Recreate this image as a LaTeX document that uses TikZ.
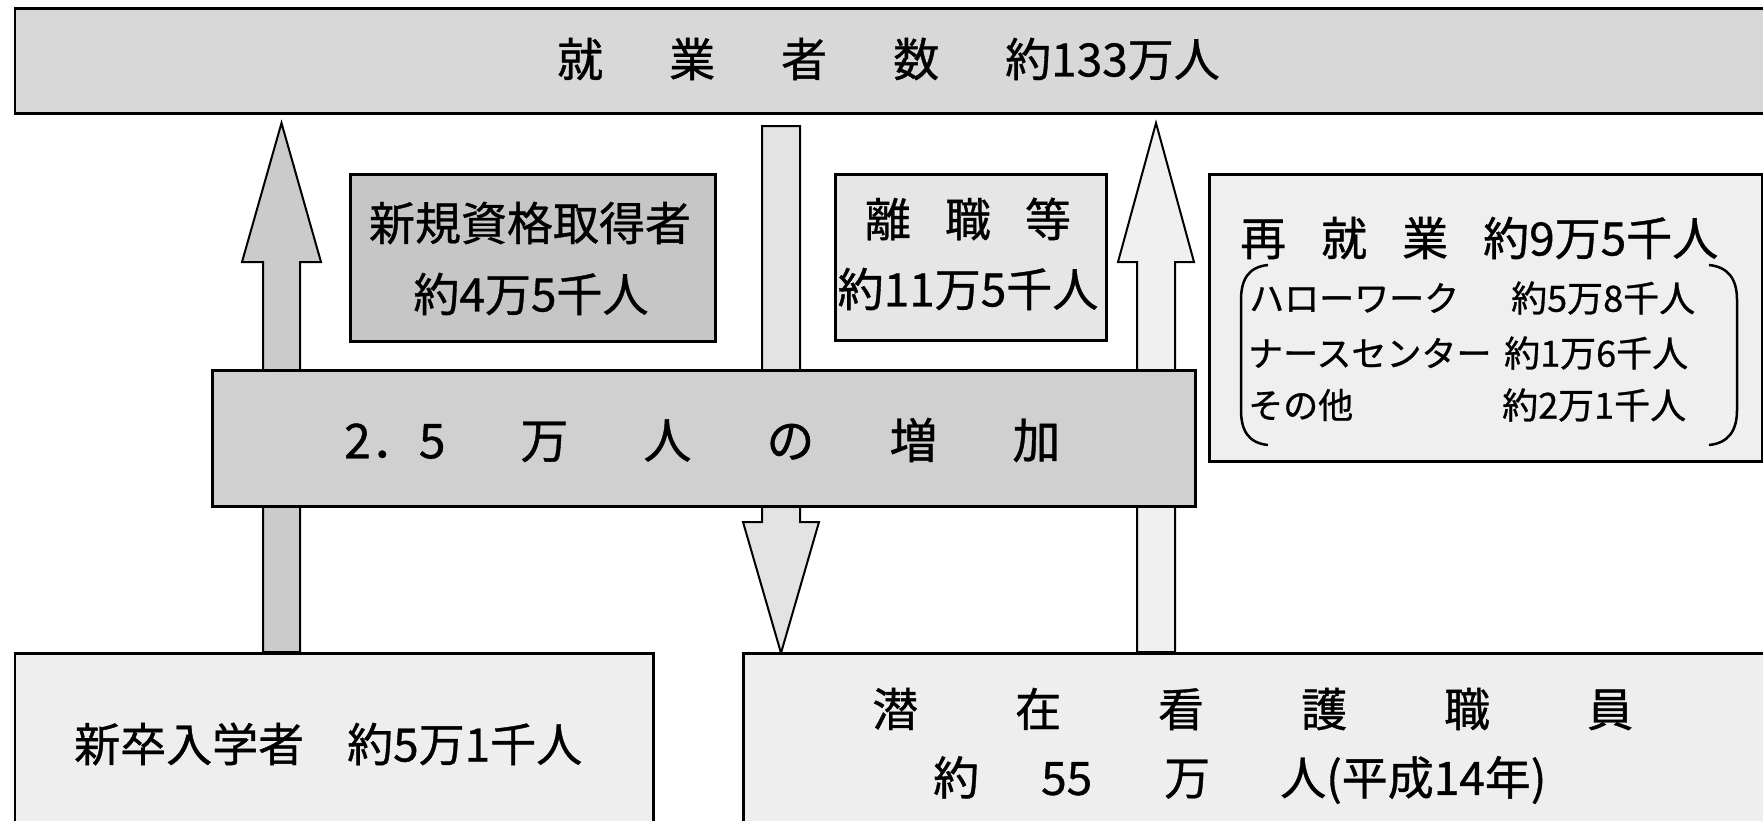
\documentclass[tikz,border=0pt]{standalone}
\usepackage{fontspec}
\setmainfont{Noto Sans CJK JP}[FakeBold=0.8]
\definecolor{topfill}{HTML}{D8D8D8}
\definecolor{shinkifill}{HTML}{C6C6C6}
\definecolor{zoukafill}{HTML}{D0D0D0}
\definecolor{rishokufill}{HTML}{E6E6E6}
\definecolor{saishufill}{HTML}{EFEFEF}
\definecolor{bottomfill}{HTML}{EEEEEE}
\definecolor{arrL}{HTML}{CBCBCB}
\definecolor{arrM}{HTML}{E3E3E3}
\definecolor{arrR}{HTML}{F0F0F0}
\begin{document}
\begin{tikzpicture}[x=1pt,y=-1pt,
  box/.style={draw=black, line width=2.8pt, inner sep=0pt, anchor=north west},
  blockarrow/.style={draw=black, line width=2pt, line join=miter},
  brk/.style={draw=black, line width=2.5pt},
  big/.style={font=\fontsize{46}{50}\selectfont, inner sep=0pt},
  bigger/.style={font=\fontsize{48}{52}\selectfont, inner sep=0pt},
  small/.style={font=\fontsize{35}{40}\selectfont, inner sep=0pt},
  smallnum/.style={font=\fontsize{36}{40}\selectfont, inner sep=0pt}]
\clip (0,0) rectangle (1763,820);
\fill[white] (0,0) rectangle (1763,820);

% top box
\node[box, fill=topfill, minimum width=1775pt, minimum height=105pt] (top) at (13.5,7) {};
\node[big, anchor=west] (toptext) at (557,59) {就\hspace{66pt}業\hspace{66pt}者\hspace{66pt}数\hspace{66pt}約133万人};

% block arrows
\coordinate (L0) at (281.5,652);
\coordinate (M0) at (781,126);
\coordinate (R0) at (1156,652);
\draw[blockarrow, fill=arrL] (L0) ++(-18.5,0) -- ++(0,-390) -- ++(-21,0) -- ++(39.5,-139) -- ++(39.5,139) -- ++(-21,0) -- ++(0,390) -- cycle;
\draw[blockarrow, fill=arrM] (M0) ++(-19,0) -- ++(0,396) -- ++(-19,0) -- ++(38,131) -- ++(38,-131) -- ++(-19,0) -- ++(0,-396) -- cycle;
\draw[blockarrow, fill=arrR] (R0) ++(-19,0) -- ++(0,-390) -- ++(-19,0) -- ++(38,-139) -- ++(38,139) -- ++(-19,0) -- ++(0,390) -- cycle;

% middle boxes
\node[box, fill=shinkifill, minimum width=365pt, minimum height=167pt] (shinki) at (349,173) {};
\node[big] (shinki1) at (530,223) {新規資格取得者};
\node[big] (shinki2) at (531,294) {約4万5千人};

\node[box, fill=rishokufill, minimum width=271pt, minimum height=166pt] (rishoku) at (834,173) {};
\node[big] (rishoku1) at (968,219) {離\hspace{34pt}職\hspace{34pt}等};
\node[big] (rishoku2) at (968,289) {約11万5千人};

\node[box, fill=saishufill, minimum width=553pt, minimum height=287pt] (saishu) at (1208,173) {};
\node[big, anchor=west] (saishu1) at (1240,238) {再\hspace{35pt}就\hspace{35pt}業\hspace{35pt}約9万5千人};
\node[small, anchor=west] (hello) at (1249,298) {ハローワーク};
\node[smallnum, anchor=west] (hellonum) at (1511,298) {約5万8千人};
\node[small, anchor=west] (nurse) at (1248,353) {ナースセンター};
\node[smallnum, anchor=west] (nursenum) at (1504,353) {約1万6千人};
\node[small, anchor=west] (other) at (1248,405) {その他};
\node[smallnum, anchor=west] (othernum) at (1502,405) {約2万1千人};
\draw[brk] (1268,265) .. controls (1248,267) and (1241,280) .. (1241,300) -- (1241,410) .. controls (1241,430) and (1248,443) .. (1268,445);
\draw[brk] (1709,265) .. controls (1729,267) and (1737,280) .. (1737,300) -- (1737,410) .. controls (1737,430) and (1729,443) .. (1709,445);

\node[box, fill=zoukafill, minimum width=983pt, minimum height=136pt] (zouka) at (211,369) {};
\node[bigger, anchor=west] (zoukatext) at (344,440) {2．5\hspace{75pt}万\hspace{75pt}人\hspace{75pt}の\hspace{75pt}増\hspace{75pt}加};

% bottom boxes
\node[box, fill=bottomfill, minimum width=638.5pt, minimum height=190pt] (shinsotsu) at (13.5,652) {};
\node[big, anchor=west] (shinsotsutext) at (74,744) {新卒入学者\hspace{43pt}約5万1千人};

\node[box, fill=bottomfill, minimum width=1040pt, minimum height=190pt] (senzai) at (742,652) {};
\node[big, anchor=west] (senzai1) at (872,709) {潜\hspace{97pt}在\hspace{97pt}看\hspace{97pt}護\hspace{97pt}職\hspace{97pt}員};
\node[big, anchor=west] (senzai2) at (933,780) {約\hspace{62pt}55\hspace{72pt}万\hspace{70pt}人(平成14年)};
\end{tikzpicture}
\end{document}
